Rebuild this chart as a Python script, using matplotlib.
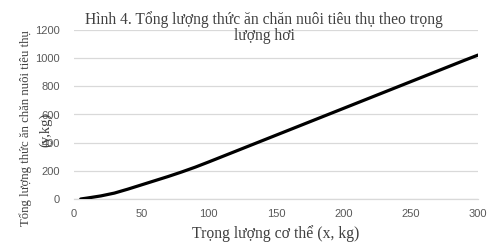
import matplotlib
matplotlib.use("Agg")
import matplotlib.pyplot as plt

# Data
x_vals = [5, 10, 20, 30, 40, 50, 60, 70, 80, 90, 100, 110, 120, 130, 140, 150,
          160, 170, 180, 190, 200, 210, 220, 230, 240, 250, 260, 270, 280, 290, 300]
y_vals = [0, 7, 22, 42, 70, 100, 130, 160, 192, 226, 263, 301, 339, 377, 415, 453,
          491, 529, 567, 605, 643, 681, 719, 757, 795, 833, 871, 909, 947, 985, 1022]
x_ticks = [0, 50, 100, 150, 200, 250, 300]
y_ticks = [0, 200, 400, 600, 800, 1000, 1200]

title = "Hình 4. Tổng lượng thức ăn chăn nuôi tiêu thụ theo trọng\nlượng hơi"
xlabel = "Trọng lượng cơ thể (x, kg)"
ylabel_1 = "Tổng lượng thức ăn chăn nuôi tiêu thụ"
ylabel_2 = "(y,kg)"

serif = ["Liberation Serif", "DejaVu Serif"]
sans = ["Liberation Sans", "DejaVu Sans"]

fig = plt.figure(figsize=(4.93, 2.47), dpi=100)
ax = fig.add_axes([74/493, 1-199/247, 404/493, 169/247])

ax.plot(x_vals, y_vals, color="black", linewidth=2.3, solid_capstyle="round", zorder=3)

ax.set_xlim(0, 300)
ax.set_ylim(0, 1200)
ax.set_xticks(x_ticks)
ax.set_yticks(y_ticks)
ax.grid(axis="y", color="#d9d9d9", linewidth=0.9)
ax.set_axisbelow(True)
for s in ["top", "right", "left"]:
    ax.spines[s].set_visible(False)
ax.spines["bottom"].set_color("#d9d9d9")
ax.spines["bottom"].set_linewidth(0.9)
ax.tick_params(axis="both", length=0, colors="#595959", labelsize=8)
ax.tick_params(axis="y", pad=10)
ax.tick_params(axis="x", pad=7)
for lab in ax.get_xticklabels() + ax.get_yticklabels():
    lab.set_family(sans)

fig.text(264/493, 1-11/247, title, ha="center", va="top", family=serif,
         fontsize=11.2, color="#404040", linespacing=1.05)
fig.text(276/493, 1-234/247, xlabel, ha="center", va="center", family=serif,
         fontsize=11.3, color="#404040")
fig.text(26/493, 1-128/247, ylabel_1, ha="center", va="center", rotation=90,
         family=serif, fontsize=9.2, color="#404040")
fig.text(46/493, 1-130/247, ylabel_2, ha="center", va="center", rotation=90,
         family=serif, fontsize=10.5, color="#404040")

fig.savefig("out.png", dpi=100)
